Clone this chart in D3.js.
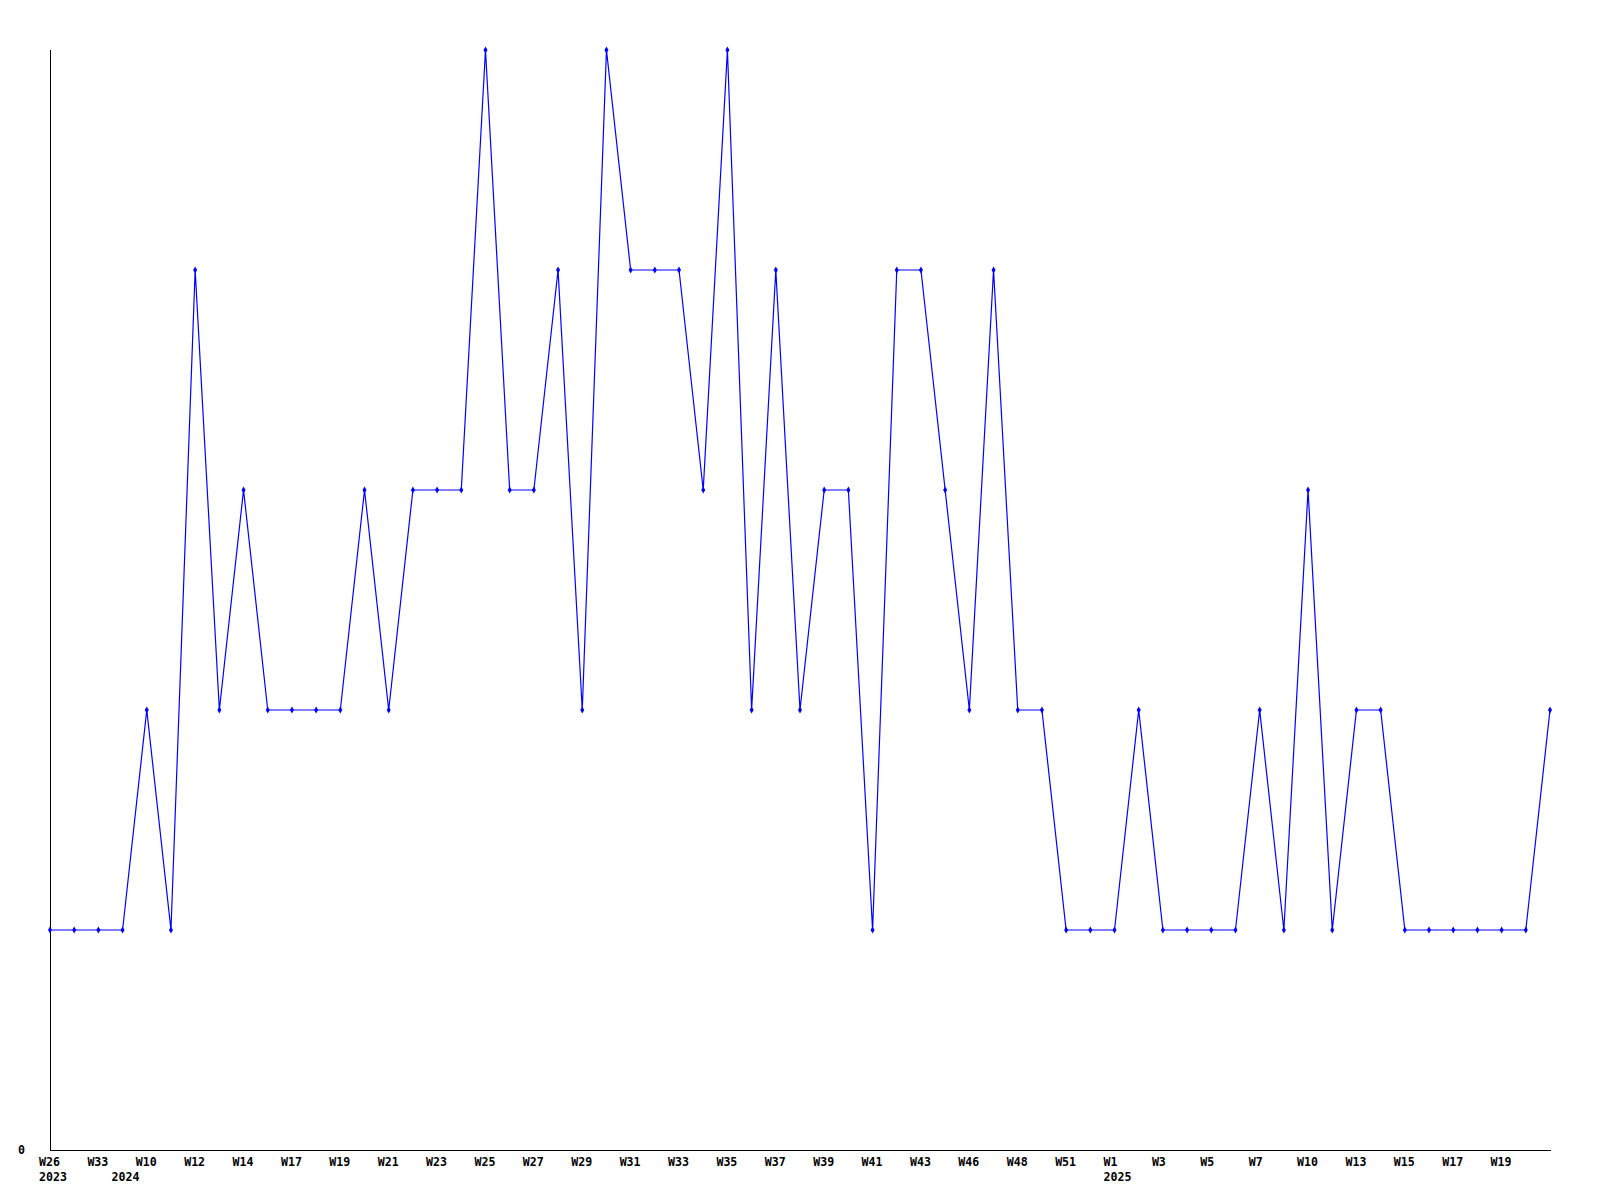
<!DOCTYPE html>
<html>
<head>
<meta charset="utf-8">
<script src="https://cdn.jsdelivr.net/npm/d3@7"></script>
<style>
  html, body { margin: 0; padding: 0; background: #ffffff; }
  svg { display: block; }
  text { font-family: "DejaVu Sans Mono", "Liberation Mono", monospace; font-weight: bold; font-size: 11.6px; fill: #000; }
</style>
</head>
<body>
<script>
// Week categories (odd-index names are not shown in the reference; estimated)
const weeks = ["W26","W30","W33","W8","W10","W11","W12","W13","W14","W16","W17","W18","W19","W20","W21","W22",
  "W23","W24","W25","W26","W27","W28","W29","W30","W31","W32","W33","W34","W35","W36","W37","W38","W39","W40",
  "W41","W42","W43","W45","W46","W47","W48","W50","W51","W52","W1","W2","W3","W4","W5","W6","W7","W9","W10",
  "W12","W13","W14","W15","W16","W17","W18","W19","W20","W21"];
const years = [2023,2023,2023,2024,2024,2024,2024,2024,2024,2024,2024,2024,2024,2024,2024,2024,
  2024,2024,2024,2024,2024,2024,2024,2024,2024,2024,2024,2024,2024,2024,2024,2024,2024,2024,
  2024,2024,2024,2024,2024,2024,2024,2024,2024,2024,2025,2025,2025,2025,2025,2025,2025,2025,2025,
  2025,2025,2025,2025,2025,2025,2025,2025,2025,2025];
const values = [1,1,1,1,2,1,4,2,3,2,2,2,2,3,2,3,3,3,5,3,3,4,2,5,4,4,4,3,5,2,4,2,3,3,1,4,4,3,2,4,2,2,
  1,1,1,2,1,1,1,1,2,1,3,1,2,2,1,1,1,1,1,1,2];
const yTickLabels = ["0"];
const yMax = 5;

const W = 1600, H = 1200;
const mLeft = 50, mRight = 1550, mTop = 50, mBottom = 1150;

const svg = d3.select("body").append("svg").attr("width", W).attr("height", H);

const idx = d3.range(values.length);
const x = d3.scalePoint().domain(idx).range([mLeft, mRight]);
const y = d3.scaleLinear().domain([0, yMax]).range([mBottom, mTop]);

// axes lines
svg.append("line").attr("x1", mLeft + 0.5).attr("x2", mLeft + 0.5).attr("y1", mTop).attr("y2", mBottom)
  .attr("stroke", "#000").attr("stroke-width", 1);
svg.append("line").attr("x1", mLeft).attr("x2", mRight + 1).attr("y1", mBottom + 0.5).attr("y2", mBottom + 0.5)
  .attr("stroke", "#000").attr("stroke-width", 1);

// y tick label
svg.append("text").attr("x", 18).attr("y", y(0) + 4).text(yTickLabels[0]);

// x tick labels (every second week), left-aligned slightly before point
const xl = svg.append("g");
idx.forEach(i => {
  if (i % 2 === 0 && i < values.length - 1) {
    xl.append("text").attr("x", x(i) - 11).attr("y", 1165.5).text(weeks[i]);
  }
  if (i === 0 || years[i] !== years[i - 1]) {
    xl.append("text").attr("x", x(i) - 11).attr("y", 1181).text(String(years[i]));
  }
});

// line
const line = d3.line().x((d, i) => x(i)).y(d => y(d));
svg.append("path").datum(values).attr("d", line)
  .attr("fill", "none").attr("stroke", "#0000ff").attr("stroke-width", 1.2);

// markers
svg.append("g").selectAll("path").data(values).join("path")
  .attr("transform", (d, i) => `translate(${x(i)},${y(d)})`)
  .attr("d", d3.symbol(d3.symbolDiamond, 14))
  .attr("fill", "#0000ff");
</script>
</body>
</html>
